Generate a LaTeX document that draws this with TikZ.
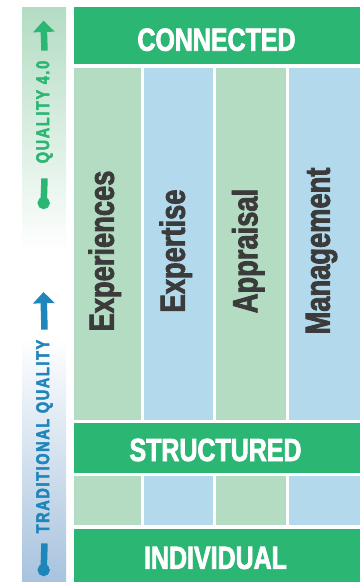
\documentclass[tikz,border=0pt]{standalone}
\usepackage{fontspec}
\usetikzlibrary{arrows.meta}
\newfontfamily\condfont[FakeStretch=0.78,FakeBold=2.2]{Liberation Sans Bold}
\newfontfamily\sidefont[FakeStretch=0.78,FakeBold=2.6,LetterSpace=9]{Liberation Sans Bold}
\definecolor{dgreen}{HTML}{2BB673}
\definecolor{lgreen}{HTML}{B3DCC3}
\definecolor{lblue}{HTML}{B3D9EC}
\definecolor{ablue}{HTML}{1F86BC}
\definecolor{bblue}{HTML}{A7C3DE}
\definecolor{tgray}{HTML}{3B3B3B}
\begin{document}
\begin{tikzpicture}[x=1pt,y=-1pt,
  head/.style={text=white,inner sep=0pt,font=\condfont\fontsize{32}{32}\selectfont},
  coltext/.style={text=tgray,rotate=90,inner sep=0pt,font=\condfont\fontsize{35}{35}\selectfont},
  side/.style={rotate=90,inner sep=0pt,font=\sidefont\fontsize{18.5}{18.5}\selectfont},
  stem/.style={line width=6.5pt}]
\fill[white] (0,0) rectangle (360,582);
% side bars
\shade[top color=lgreen,bottom color=white] (22,7) rectangle (66,253);
\shade[top color=white,bottom color=bblue] (22,337) rectangle (66,582);
% green bands
\fill[dgreen] (74,7) rectangle (359.5,63.5);
\fill[dgreen] (74,422.5) rectangle (359.5,473);
\fill[dgreen] (74,529) rectangle (359.5,582);
\node[head] (connected) at (216.5,39.7) {CONNECTED};
\node[head] (structured) at (215.5,450) {STRUCTURED};
\node[head] (individual) at (215.5,558) {INDIVIDUAL};
% columns
\foreach \xa/\xb/\fc/\word in {74/140.5/lgreen/Experiences,143.5/213/lblue/Expertise,
    216/285.5/lgreen/Appraisal,288.5/359.5/lblue/Management}{
  \fill[\fc] (\xa,68) rectangle (\xb,420);
  \fill[\fc] (\xa,476) rectangle (\xb,524.5);
  \node[coltext] (\word) at ({(\xa+\xb)/2-2.5},251) {\word};
}
% arrows
\node[side,text=dgreen] (q40) at (44.5,112) {QUALITY 4.0};
\node[side,text=ablue] (tradq) at (44.5,436.5) {TRADITIONAL QUALITY};
\coordinate (gtip) at (43.5,20.7);
\coordinate (gtail) at (43.5,209);
\coordinate (btip) at (43.5,292);
\coordinate (btail) at (43.5,576);
\draw[stem,dgreen,-{Triangle[width=21pt,length=11.3pt]}] ([yshift=10pt]q40.east) -- (gtip);
\draw[stem,dgreen,-{Circle[length=12pt]}] ([yshift=-15pt]q40.west) -- (gtail);
\draw[stem,ablue,-{Triangle[width=21pt,length=11.3pt]}] ([yshift=10pt]tradq.east) -- (btip);
\draw[stem,ablue,-{Circle[length=12pt]}] ([yshift=-10pt]tradq.west) -- (btail);
\end{tikzpicture}
\end{document}
